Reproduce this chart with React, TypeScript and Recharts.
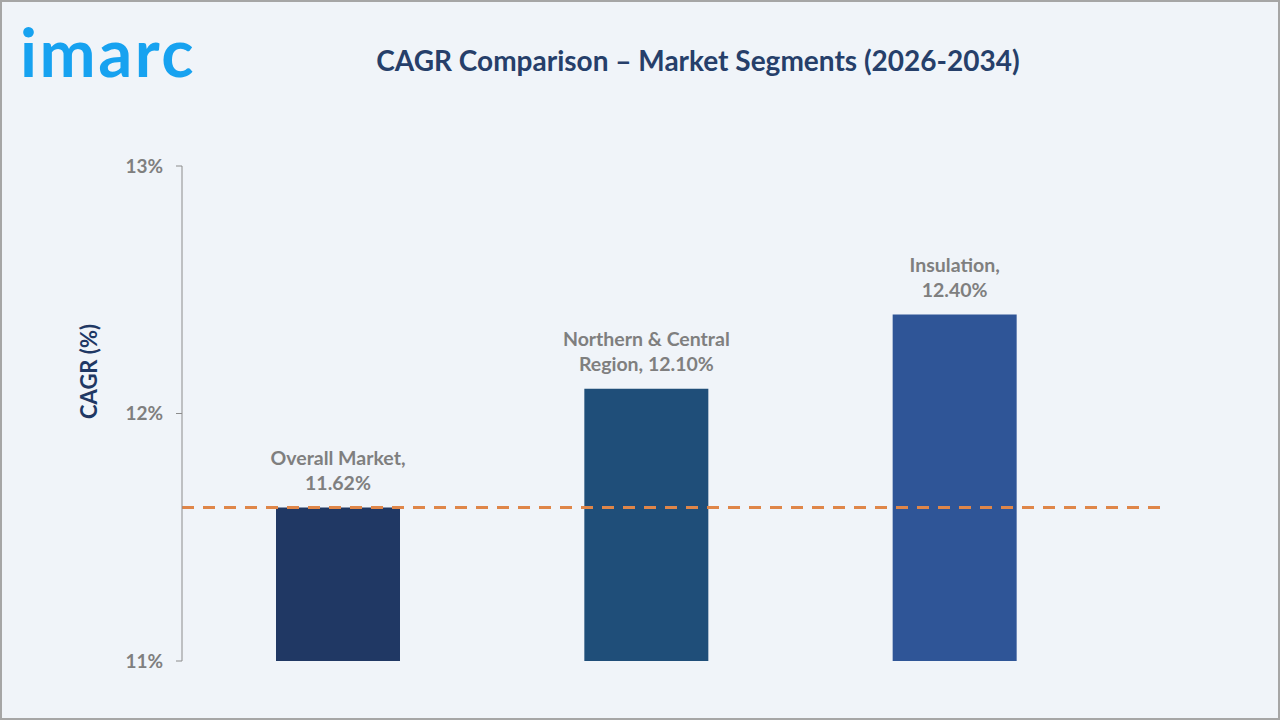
import React from "react";
import { BarChart, Bar, XAxis, YAxis, ReferenceLine, Cell, LabelList } from "recharts";

const categories = ["Overall Market", "Northern & Central Region", "Insulation"];
const cagrValues = [11.62, 12.1, 12.4];
const labelFirstLines = ["Overall Market,", "Northern & Central", "Insulation,"];
const labelSecondPrefixes = ["", "Region, ", ""];
const barColors = ["#203864", "#1f4e79", "#2f5597"];
const yTicks = [11, 12, 13];
const overallReference = 11.62;

const data = categories.map((c, i) => ({ name: c, value: cagrValues[i] }));

const FONT = "Lato, 'Open Sans', sans-serif";

const BarLabel = (props: any) => {
  const { x, y, width, value, index } = props;
  const cx = Number(x) + Number(width) / 2;
  const top = Number(y);
  return (
    <text
      textAnchor="middle"
      fill="#7f7f7f"
      fontFamily={FONT}
      fontWeight={700}
      fontSize={19.5}
    >
      <tspan x={cx} y={top - 43}>{labelFirstLines[index]}</tspan>
      <tspan x={cx} y={top - 18}>
        {labelSecondPrefixes[index] + Number(value).toFixed(2) + "%"}
      </tspan>
    </text>
  );
};

const YLabel = (props: any) => {
  const vb = props.viewBox || {};
  const x = vb.x + 6;
  const y = vb.y + vb.height / 2 - 42;
  return (
    <text
      x={x}
      y={y}
      transform={`rotate(-90 ${x} ${y})`}
      textAnchor="middle"
      dominantBaseline="central"
      fill="#1f3864"
      fontFamily={FONT}
      fontWeight={700}
      fontSize={22}
    >
      CAGR (%)
    </text>
  );
};

export default function App() {
  return (
    <div
      style={{
        position: "fixed",
        left: 0,
        top: 0,
        width: 1280,
        height: 720,
        background: "#f0f4f9",
        border: "2px solid #a6a6a6",
        boxSizing: "border-box",
        overflow: "hidden",
        fontFamily: FONT,
      }}
    >
      <div
        style={{
          position: "absolute",
          left: 18,
          top: 4,
          fontSize: 67,
          fontWeight: 700,
          color: "#17a2f0",
          letterSpacing: 2.5,
          lineHeight: "90px",
        }}
      >
        imarc
      </div>
      <div
        style={{
          position: "absolute",
          left: 0,
          width: 1392,
          top: 41,
          textAlign: "center",
          fontSize: 28,
          fontWeight: 700,
          color: "#263f6a",
          lineHeight: "34px",
        }}
      >
        CAGR Comparison – Market Segments (2026-2034)
      </div>
      <div style={{ position: "absolute", left: -2, top: -2 }}>
        <BarChart
          width={1280}
          height={720}
          data={data}
          margin={{ top: 166, right: 116, bottom: 59, left: 82 }}
        >
          <XAxis
            dataKey="name"
            tick={false}
            tickLine={false}
            height={0}
            padding={{ left: 2, right: 55 }}
            axisLine={{ stroke: "#8c8c8c", strokeWidth: 2 }}
          />
          <YAxis
            width={100}
            domain={[11, 13]}
            ticks={yTicks}
            tickFormatter={(v: number) => `${v}%`}
            tickSize={6}
            tickMargin={13}
            axisLine={{ stroke: "#8c8c8c", strokeWidth: 1 }}
            tickLine={{ stroke: "#8c8c8c" }}
            tick={{ fill: "#7f7f7f", fontSize: 19, fontWeight: 700, fontFamily: FONT }}
            label={{ content: YLabel }}
          />
          <Bar dataKey="value" barSize={124} isAnimationActive={false}>
            {data.map((d, i) => (
              <Cell key={d.name} fill={barColors[i]} />
            ))}
            <LabelList dataKey="value" content={BarLabel} />
          </Bar>
          <ReferenceLine
            y={overallReference}
            stroke="#df8649"
            strokeWidth={3}
            strokeDasharray="12 9"
          />
        </BarChart>
      </div>
    </div>
  );
}
